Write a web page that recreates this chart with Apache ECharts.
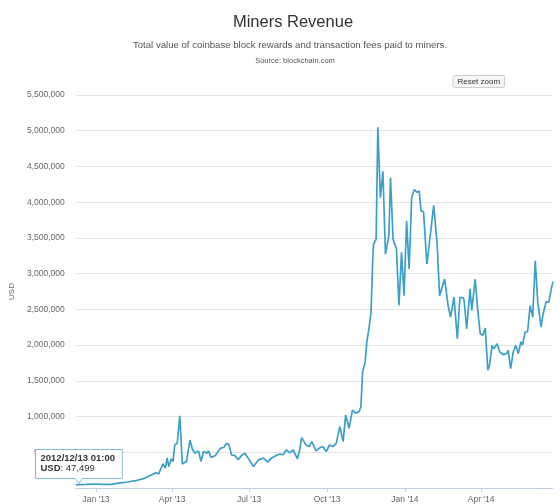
<!DOCTYPE html>
<html>
<head>
<meta charset="utf-8">
<script src="https://cdn.jsdelivr.net/npm/echarts@6/dist/echarts.min.js"></script>
<style>
html,body{margin:0;padding:0;background:#fff;}
#chart{width:560px;height:504px;}
</style>
</head>
<body>
<div id="chart"></div>
<script>
var dates = [
'2012-12-08','2012-12-13','2012-12-20','2012-12-30','2013-01-08','2013-01-18','2013-01-28','2013-02-07','2013-02-17','2013-02-27',
'2013-03-06','2013-03-13','2013-03-16','2013-03-21','2013-03-24','2013-03-26','2013-03-28','2013-03-31','2013-04-02','2013-04-04',
'2013-04-07','2013-04-10','2013-04-13','2013-04-18','2013-04-22','2013-04-25','2013-04-28','2013-05-02','2013-05-05','2013-05-08',
'2013-05-12','2013-05-14','2013-05-17','2013-05-22','2013-05-28','2013-06-01','2013-06-04','2013-06-07','2013-06-10','2013-06-14',
'2013-06-18','2013-06-22','2013-06-26','2013-07-01','2013-07-06','2013-07-12','2013-07-18','2013-07-20','2013-07-23','2013-07-27',
'2013-08-02','2013-08-06','2013-08-10','2013-08-14','2013-08-18','2013-08-22','2013-08-24','2013-08-27','2013-08-30','2013-09-01',
'2013-09-06','2013-09-10','2013-09-13','2013-09-18','2013-09-22','2013-09-26','2013-09-30','2013-10-04','2013-10-08','2013-10-12',
'2013-10-16','2013-10-20','2013-10-23','2013-10-27','2013-10-31','2013-11-04','2013-11-08','2013-11-10','2013-11-12','2013-11-15',
'2013-11-17','2013-11-20','2013-11-22','2013-11-24','2013-11-25','2013-11-28','2013-11-30','2013-12-03','2013-12-06','2013-12-09',
'2013-12-13','2013-12-15','2013-12-18','2013-12-22','2013-12-25','2013-12-28','2013-12-31','2014-01-03','2014-01-06','2014-01-09',
'2014-01-12','2014-01-15','2014-01-18','2014-01-20','2014-01-23','2014-01-27','2014-01-30','2014-02-04','2014-02-08','2014-02-11',
'2014-02-17','2014-02-21','2014-02-24','2014-02-28','2014-03-04','2014-03-07','2014-03-11','2014-03-12','2014-03-15','2014-03-19',
'2014-03-21','2014-03-25','2014-03-28','2014-03-31','2014-04-03','2014-04-06','2014-04-09','2014-04-11','2014-04-14','2014-04-16',
'2014-04-20','2014-04-23','2014-04-27','2014-05-01','2014-05-03','2014-05-06','2014-05-09','2014-05-12','2014-05-15','2014-05-18',
'2014-05-20','2014-05-23','2014-05-26','2014-05-29','2014-06-01','2014-06-04','2014-06-07','2014-06-11','2014-06-13','2014-06-17',
'2014-06-20','2014-06-23','2014-06-25'
];

var revenueUSD = [
45000, 47499, 50000, 56000, 50000, 52000, 68000, 84000, 102000, 135000,
175000, 215000, 195000, 340000, 280000, 420000, 300000, 410000, 370000, 600000,
630000, 1010000, 335000, 375000, 670000, 540000, 487000, 520000, 372000, 511000,
487000, 520000, 427000, 455000, 557000, 567000, 627000, 610000, 464000, 455000,
394000, 455000, 487000, 394000, 302000, 394000, 418000, 425000, 362000, 418000,
455000, 475000, 465000, 534000, 490000, 534000, 557000, 408000, 557000, 706000,
603000, 580000, 650000, 520000, 560000, 580000, 511000, 603000, 580000, 627000,
859000, 650000, 1021000, 836000, 1091000, 1045000, 1070000, 1138000, 1625000, 1765000,
2043000, 2275000, 2461000, 3203000, 3412000, 3482000, 5050000, 4063000, 4433000, 3273000,
3528000, 4341000, 3480000, 3340000, 2553000, 3297000, 2692000, 3737000, 3064000, 4063000,
4178000, 4140000, 4155000, 3876000, 3870000, 3134000, 3436000, 3956000, 3436000, 2692000,
2925000, 2553000, 2391000, 2670000, 2089000, 2670000, 2660000, 2620000, 2228000, 2786000,
2484000, 2925000, 2500000, 2159000, 2136000, 2238000, 1648000, 1720000, 1996000, 1950000,
2020000, 1904000, 1866000, 1880000, 1927000, 1671000, 1904000, 1996000, 1880000, 2043000,
2000000, 2182000, 2190000, 2553000, 2391000, 3180000, 2600000, 2252000, 2420000, 2609000,
2600000, 2786000, 2887000
];

var tickDates = ['2013-01-01','2013-04-01','2013-07-01','2013-10-01','2014-01-01','2014-04-01'];
var tickLabels = ["Jan '13","Apr '13","Jul '13","Oct '13","Jan '14","Apr '14"];

var hoverIndex = 1;
var hoverTime = '01:00';

var titleText = 'Miners Revenue';
var subtitleText = 'Total value of coinbase block rewards and transaction fees paid to miners.';
var sourceText = 'Source: blockchain.com';

var FONT = '"Liberation Sans", Arial, Helvetica, sans-serif';
var LINE = '#3c9fc8';

var tickTs = tickDates.map(function (d) { return Date.parse(d); });
var seriesData = dates.map(function (d, i) { return [Date.parse(d), revenueUSD[i]]; });

function fmtNum(v) { return String(v).replace(/\B(?=(\d{3})+(?!\d))/g, ','); }

var hoverLabel = dates[hoverIndex].replace(/-/g, '/') + ' ' + hoverTime;
var hoverValue = fmtNum(revenueUSD[hoverIndex]);

var chart = echarts.init(document.getElementById('chart'), null, { renderer: 'canvas' });
chart.setOption({
  animation: false,
  backgroundColor: '#ffffff',
  textStyle: { fontFamily: FONT },
  title: [
    { text: titleText, left: 288, top: 9, textAlign: 'center',
      textStyle: { fontSize: 16.5, fontWeight: 'normal', color: '#333333', fontFamily: FONT } },
    { text: subtitleText, left: 285, top: 35.5, textAlign: 'center',
      textStyle: { fontSize: 9.6, fontWeight: 'normal', color: '#555555', fontFamily: FONT } },
    { text: sourceText, left: 290, top: 52, textAlign: 'center',
      textStyle: { fontSize: 7.5, fontWeight: 'normal', color: '#555555', fontFamily: FONT } }
  ],
  grid: { left: 73, right: 7, top: 95, bottom: 13.5 },
  xAxis: {
    type: 'value',
    min: Date.parse(dates[0]),
    max: Date.parse(dates[dates.length - 1]),
    axisLine: { show: true, lineStyle: { color: '#c0d0e0', width: 1 } },
    axisTick: { show: true, length: 4, lineStyle: { color: '#c0d0e0' }, customValues: tickTs },
    axisLabel: {
      customValues: tickTs, fontSize: 8.5, color: '#666666', margin: 7,
      formatter: function (v) { var i = tickTs.indexOf(v); return i >= 0 ? tickLabels[i] : ''; }
    },
    splitLine: { show: false }
  },
  yAxis: {
    type: 'value',
    min: 0, max: 5500000, interval: 500000,
    name: 'USD', nameLocation: 'middle', nameGap: 57,
    nameTextStyle: { fontSize: 8, color: '#666666' },
    axisLine: { show: false }, axisTick: { show: false },
    axisLabel: { fontSize: 8.5, color: '#666666', margin: 11, showMinLabel: false,
      formatter: function (v) { return fmtNum(v); } },
    splitLine: { lineStyle: { color: '#e4e4e4', width: 1 } }
  },
  series: [{
    type: 'line', data: seriesData, showSymbol: false, symbol: 'none',
    lineStyle: { color: LINE, width: 1.7 }, itemStyle: { color: LINE }
  }],
  graphic: [
    { type: 'group', left: 452.5, top: 75, children: [
      { type: 'rect', z: 100, shape: { x: 0, y: 0, width: 51.5, height: 12, r: 2 },
        style: { fill: '#f6f6f6', stroke: '#cccccc', lineWidth: 1 } },
      { type: 'text', z: 101, x: 25.75, y: 6, style: { text: 'Reset zoom', fontSize: 8, fontFamily: FONT,
        fill: '#333333', align: 'center', verticalAlign: 'middle' } }
    ]},
    { type: 'group', left: 35, top: 449, children: [
      { type: 'polygon', z: 100, shape: { points: [[0,0],[86.7,0],[86.7,29],[47,29],[43.3,34],[39.6,29],[0,29]] },
        style: { fill: '#ffffff', stroke: '#7fbcd8', lineWidth: 1 } },
      { type: 'text', z: 101, x: 5, y: 3.5, style: {
        text: '{b|' + hoverLabel + '}\n{b|USD}{n|: ' + hoverValue + '}',
        fontFamily: FONT, fill: '#333333',
        rich: {
          b: { fontSize: 9.5, fontWeight: 'bold', fill: '#333333', lineHeight: 10.5, fontFamily: FONT },
          n: { fontSize: 9.5, fontWeight: 'normal', fill: '#333333', lineHeight: 10.5, fontFamily: FONT }
        } } }
    ]}
  ]
});
</script>
</body>
</html>
